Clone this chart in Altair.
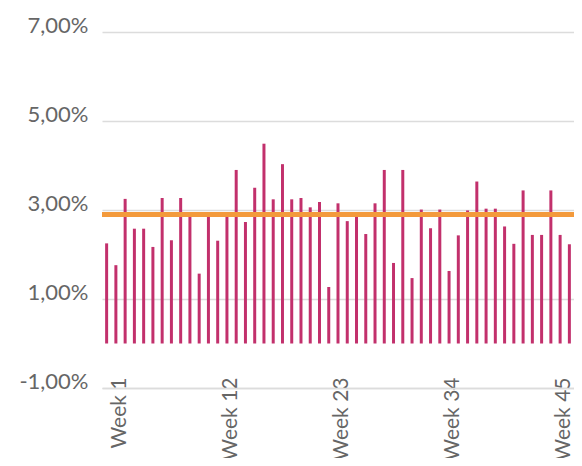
import altair as alt
import pandas as pd

# Weekly values (%), 51 bars
values = [2.25, 1.76, 3.25, 2.58, 2.58, 2.17, 3.27, 2.32, 3.27, 2.88,
          1.57, 2.88, 2.31, 2.86, 3.90, 2.73, 3.50, 4.49, 3.24, 4.03,
          3.24, 3.27, 3.06, 3.18, 1.27, 3.15, 2.75, 2.86, 2.46, 3.15,
          3.90, 1.81, 3.90, 1.47, 3.01, 2.59, 3.01, 1.63, 2.43, 2.99,
          3.64, 3.03, 3.03, 2.63, 2.24, 3.44, 2.44, 2.44, 3.44, 2.44, 2.23]
weeks = [f"Week {i + 1}" for i in range(len(values))]
target = 2.9
label_weeks = [1, 12, 23, 34, 45]
y_ticks = [-1, 1, 3, 5, 7]
week_axis_domain = [-0.78, 46.0]

bars_df = pd.DataFrame({"week": weeks, "value": values})
labels_df = pd.DataFrame({"w": label_weeks})
target_df = pd.DataFrame({"t": [target]})

FONT = "Lato"
GREY = "#666666"
GRID = "#dcdcdc"

yscale = alt.Scale(domain=[-1, 7], nice=False, zero=False)
yaxis = alt.Axis(values=y_ticks,
                 labelExpr="replace(replace(format(datum.value, '.2f'), '.', ','), '\u2212', '-') + '%'",
                 title=None, domain=False, ticks=False, grid=True, gridColor=GRID, gridWidth=1.5,
                 labelFont=FONT, labelFontSize=22, labelColor=GREY, labelPadding=14,
                 labelBaseline="alphabetic")

bars = alt.Chart(bars_df).mark_bar(color="#c2306c", width=3).encode(
    x=alt.X("week:N", sort=None, axis=None, scale=alt.Scale(paddingInner=0, paddingOuter=0)),
    y=alt.Y("value:Q", scale=yscale, axis=yaxis),
    y2=alt.datum(0),
)

line = alt.Chart(target_df).mark_rule(color="#f39a3c", strokeWidth=5).encode(
    y=alt.Y("t:Q", scale=yscale),
)

axis_layer = alt.Chart(labels_df).mark_point(opacity=0).encode(
    x=alt.X("w:Q", scale=alt.Scale(domain=week_axis_domain, nice=False, zero=False),
            axis=alt.Axis(values=label_weeks, labelExpr="'Week ' + datum.value", title=None,
                          labelAngle=-90, labelFont=FONT, labelFontSize=21, labelColor=GREY,
                          ticks=False, grid=False, domain=True, domainColor=GRID, domainWidth=1.5,
                          labelPadding=-11, labelFlush=False, labelOverlap=False)),
    y=alt.Y("w:Q", scale=yscale),
)

chart = alt.layer(bars, line, axis_layer).resolve_scale(x="independent").properties(
    width=472, height=356,
    autosize=alt.AutoSizeParams(type="none"),
    padding={"left": 94, "top": 24, "right": 0, "bottom": 70},
).configure_view(stroke=None)

chart.save("out.html", embed_options={"renderer": "svg", "actions": False})
